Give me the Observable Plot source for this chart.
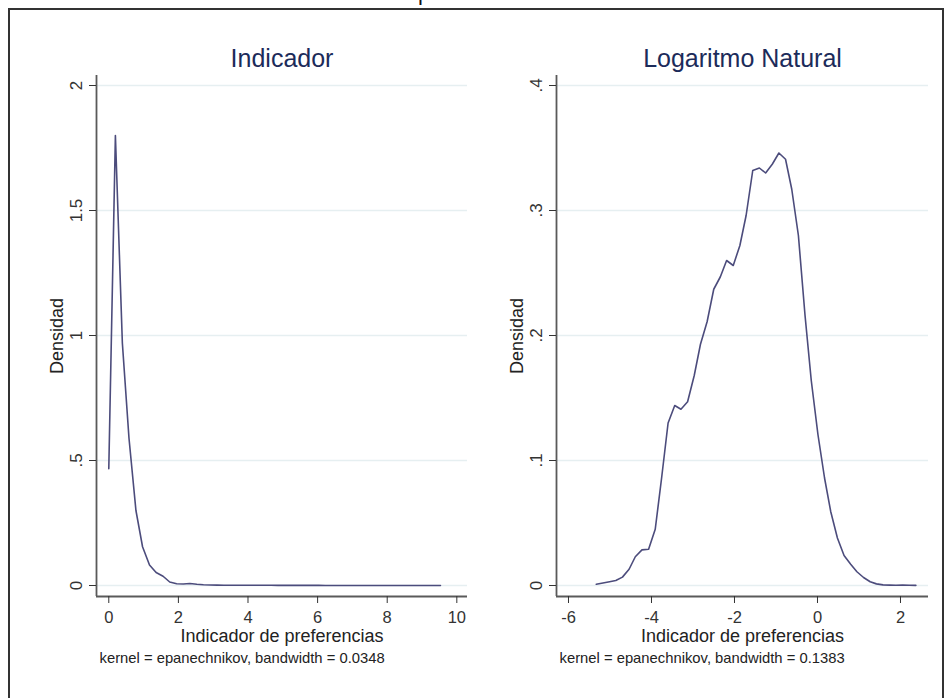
<!DOCTYPE html>
<html><head><meta charset="utf-8">
<script src="https://cdn.jsdelivr.net/npm/d3@7"></script>
<script src="https://cdn.jsdelivr.net/npm/@observablehq/plot@0.6"></script>
<style>
html,body{margin:0;padding:0;background:#fff;}
#wrap{position:relative;width:952px;height:698px;overflow:hidden;background:#fff;font-family:"Liberation Sans",Arial,sans-serif;}
#wrap .panel{position:absolute;top:0;width:476px;height:698px;}
#border{position:absolute;left:8px;top:8px;width:936px;height:720px;border:2px solid #333;box-sizing:border-box;pointer-events:none;}
#topfrag{position:absolute;left:0;top:0;}
</style></head><body><div id="wrap"></div>
<script>
// ---- data ----
const indicadorX = [0, 0.19, 0.39, 0.58, 0.78, 0.97, 1.17, 1.36, 1.56, 1.75,
  1.95, 2.14, 2.33, 2.53, 2.72, 2.92, 3.11, 3.31, 3.50, 3.70,
  3.89, 4.09, 4.28, 4.47, 4.67, 4.86, 5.06, 5.25, 5.45, 5.64,
  5.84, 6.03, 6.22, 6.42, 6.61, 6.81, 7.00, 7.20, 7.39, 7.59,
  7.78, 7.98, 8.17, 8.36, 8.56, 8.75, 8.95, 9.14, 9.34, 9.53];
const indicadorY = [0.467, 1.80, 0.97, 0.59, 0.30, 0.155, 0.082, 0.052, 0.037, 0.014,
  0.007, 0.006, 0.008, 0.005, 0.003, 0.002, 0.0015, 0.001, 0.001, 0.0008,
  0.0008, 0.001, 0.0012, 0.001, 0.0008, 0.0006, 0.0005, 0.0005, 0.0005, 0.0004,
  0.0004, 0.0004, 0.0003, 0.0003, 0.0003, 0.0003, 0.0003, 0.0003, 0.0002, 0.0002,
  0.0002, 0.0002, 0.0002, 0.0002, 0.0002, 0.0002, 0.0001, 0.0001, 0.0001, 0.0001];
const logX = [-5.33, -5.17, -5.01, -4.86, -4.70, -4.54, -4.39, -4.23, -4.07, -3.91,
  -3.76, -3.60, -3.44, -3.29, -3.13, -2.97, -2.82, -2.66, -2.50, -2.34,
  -2.19, -2.03, -1.87, -1.72, -1.56, -1.40, -1.25, -1.09, -0.93, -0.77,
  -0.62, -0.46, -0.30, -0.15, 0.01, 0.17, 0.32, 0.48, 0.64, 0.80,
  0.95, 1.11, 1.27, 1.42, 1.58, 1.74, 1.89, 2.05, 2.21, 2.37];
const logY = [0.001, 0.002, 0.003, 0.004, 0.0067, 0.013, 0.023, 0.0285, 0.029, 0.045,
  0.085, 0.130, 0.144, 0.141, 0.147, 0.168, 0.193, 0.211, 0.237, 0.247,
  0.260, 0.256, 0.272, 0.296, 0.332, 0.334, 0.330, 0.337, 0.346, 0.341,
  0.317, 0.280, 0.216, 0.164, 0.121, 0.086, 0.059, 0.038, 0.024, 0.017,
  0.011, 0.0064, 0.003, 0.0013, 0.0005, 0.0003, 0.0002, 0.0003, 0.0002, 0.0001];
const panelTitles = ["Indicador", "Logaritmo Natural"];
const xAxisTitle = "Indicador de preferencias";
const yAxisTitle = "Densidad";
const notes = ["kernel = epanechnikov, bandwidth = 0.0348", "kernel = epanechnikov, bandwidth = 0.1383"];
const leftXTicks = [0, 2, 4, 6, 8, 10];
const leftYTicks = [0, 0.5, 1, 1.5, 2];
const leftYTickLabels = ["0", ".5", "1", "1.5", "2"];
const rightXTicks = [-6, -4, -2, 0, 2];
const rightYTicks = [0, 0.1, 0.2, 0.3, 0.4];
const rightYTickLabels = ["0", ".1", ".2", ".3", ".4"];
const topFragment = "p";

// ---- styling ----
const FONT = '"Liberation Sans", Arial, sans-serif';
const LINE = "#4c4c7c";
const AXIS = "#5a5a5a";
const GRID = "#e6eff1";
const TITLE = "#1c2b5a";

function panel({xs, ys, title, note, xTicks, yTicks, yLabels, xDomain, yDomain, marginLeft, marginRight}) {
  const data = xs.map((x, i) => ({x, y: ys[i]}));
  const fmtY = d => yLabels[yTicks.indexOf(d)];
  return Plot.plot({
    width: 476, height: 698,
    marginLeft, marginRight, marginTop: 75, marginBottom: 102,
    style: {background: "transparent", fontFamily: FONT, overflow: "visible"},
    x: {domain: xDomain, label: null},
    y: {domain: yDomain, label: null},
    marks: [
      Plot.ruleY(yTicks, {stroke: GRID, strokeWidth: 1.5}),
      Plot.line(data, {x: "x", y: "y", stroke: LINE, strokeWidth: 1.6}),
      Plot.ruleX([xDomain[0]], {stroke: AXIS, strokeWidth: 1.8}),
      Plot.ruleY([yDomain[0]], {stroke: AXIS, strokeWidth: 1.8}),
      Plot.axisX(xTicks, {tickSize: 7, tickPadding: 8, fontSize: 16.5, color: "#333", label: null, tickFormat: d => String(d)}),
      Plot.axisY(yTicks, {tickSize: 7, tickPadding: 13, tickRotate: -90, textAnchor: "middle", lineAnchor: "middle",
        fontSize: 17, color: "#333", label: null, tickFormat: fmtY}),
      Plot.text([title], {text: d => d, frameAnchor: "top", dy: -17, fontSize: 25, fill: TITLE, textAnchor: "middle", lineAnchor: "middle"}),
      Plot.text([xAxisTitle], {text: d => d, frameAnchor: "bottom", dy: 40, fontSize: 18, fill: "#222", textAnchor: "middle", lineAnchor: "middle"}),
      Plot.text([note], {text: d => d, frameAnchor: "bottom-left", dx: 3, dy: 62, textAnchor: "start", fontSize: 14.8, fill: "#222", lineAnchor: "middle"}),
      Plot.text([yAxisTitle], {text: d => d, frameAnchor: "left", dx: -39, rotate: -90, fontSize: 18, fill: "#222", textAnchor: "middle", lineAnchor: "middle"})
    ]
  });
}

const wrap = document.getElementById("wrap");

const left = panel({
  xs: indicadorX, ys: indicadorY, title: panelTitles[0], note: notes[0],
  xTicks: leftXTicks, yTicks: leftYTicks, yLabels: leftYTickLabels,
  xDomain: [-0.353, 10.307], yDomain: [-0.044, 2.04],
  marginLeft: 96, marginRight: 9
});
const right = panel({
  xs: logX, ys: logY, title: panelTitles[1], note: notes[1],
  xTicks: rightXTicks, yTicks: rightYTicks, yLabels: rightYTickLabels,
  xDomain: [-6.289, 2.675], yDomain: [-0.0088, 0.408],
  marginLeft: 80, marginRight: 24
});

const d1 = document.createElement("div"); d1.className = "panel"; d1.style.left = "0px"; d1.appendChild(left);
const d2 = document.createElement("div"); d2.className = "panel"; d2.style.left = "476px"; d2.appendChild(right);
wrap.appendChild(d1); wrap.appendChild(d2);

const frag = document.createElementNS("http://www.w3.org/2000/svg", "svg");
frag.setAttribute("id", "topfrag"); frag.setAttribute("width", "952"); frag.setAttribute("height", "20");
const t = document.createElementNS("http://www.w3.org/2000/svg", "text");
t.setAttribute("x", "418"); t.setAttribute("y", "0"); t.setAttribute("font-size", "22");
t.setAttribute("font-family", FONT); t.setAttribute("fill", "#111");
t.textContent = topFragment;
frag.appendChild(t);
wrap.appendChild(frag);

const border = document.createElement("div"); border.id = "border";
wrap.appendChild(border);
</script>
</body></html>
